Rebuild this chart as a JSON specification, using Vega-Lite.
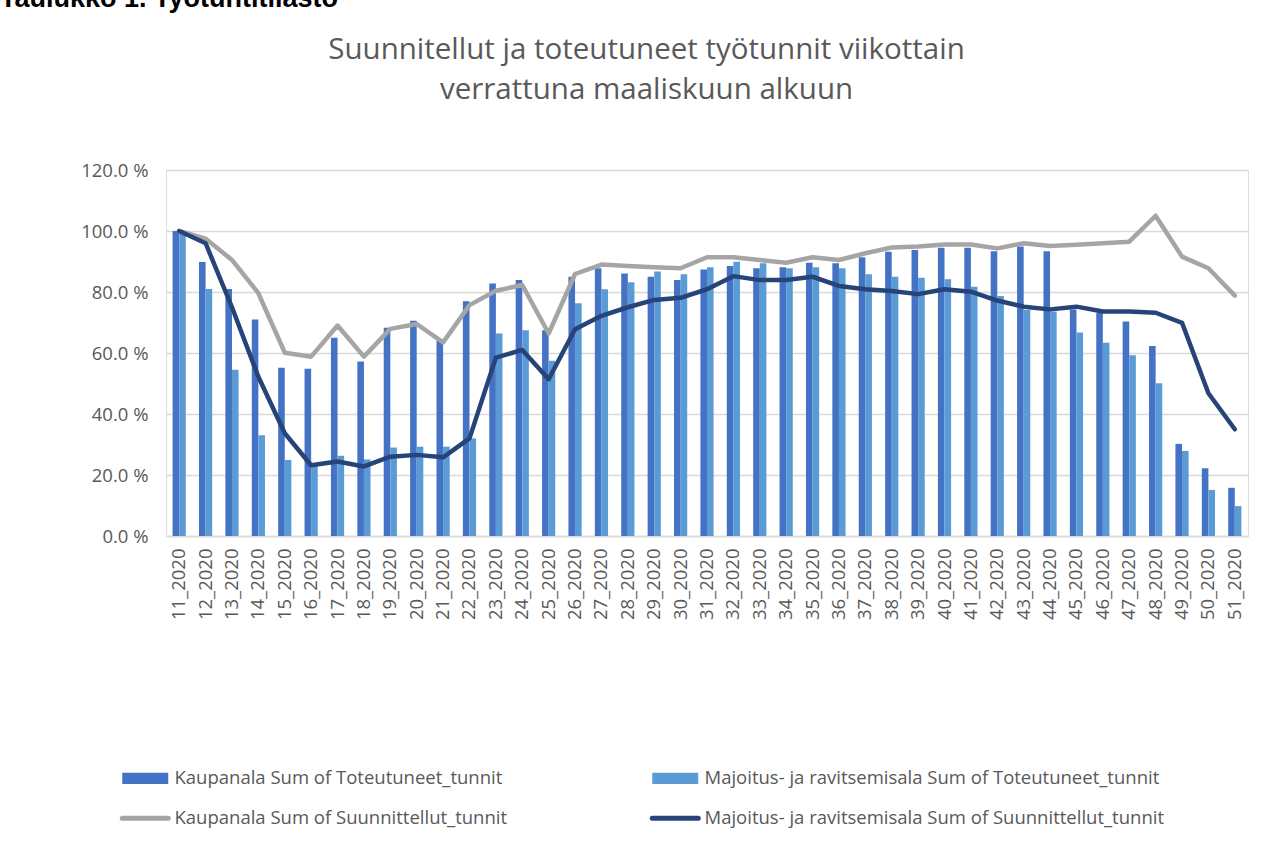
{
  "$schema": "https://vega.github.io/schema/vega-lite/v6.json",
  "width": 1082,
  "height": 366,
  "autosize": {"type": "none"},
  "padding": {"left": 166, "top": 170, "right": 30, "bottom": 307},
  "background": "white",
  "title": {
    "text": "Taulukko 1. Työtuntitilasto",
    "font": "Liberation Sans",
    "fontSize": 27,
    "fontWeight": "bold",
    "color": "#000000",
    "anchor": "start",
    "frame": "group",
    "dx": -166,
    "baseline": "alphabetic",
    "offset": 0
  },
  "datasets": {
    "tunnit": [
      {"viikko": "11_2020", "kt": 100, "mt": 99.5, "ks": 100, "ms": 100},
      {"viikko": "12_2020", "kt": 89.8, "mt": 81, "ks": 97.5, "ms": 96},
      {"viikko": "13_2020", "kt": 81, "mt": 54.5, "ks": 90.5, "ms": 75},
      {"viikko": "14_2020", "kt": 71, "mt": 33, "ks": 79.6, "ms": 52.2},
      {"viikko": "15_2020", "kt": 55.2, "mt": 24.9, "ks": 60.1, "ms": 33.7},
      {"viikko": "16_2020", "kt": 54.8, "mt": 23.3, "ks": 58.8, "ms": 23.2},
      {"viikko": "17_2020", "kt": 65, "mt": 26.3, "ks": 69, "ms": 24.4},
      {"viikko": "18_2020", "kt": 57.2, "mt": 25.1, "ks": 58.8, "ms": 22.8},
      {"viikko": "19_2020", "kt": 68.3, "mt": 29, "ks": 67.9, "ms": 26},
      {"viikko": "20_2020", "kt": 70.6, "mt": 29.3, "ks": 69.5, "ms": 26.6},
      {"viikko": "21_2020", "kt": 64, "mt": 29.3, "ks": 63.5, "ms": 25.8},
      {"viikko": "22_2020", "kt": 77, "mt": 32, "ks": 75.7, "ms": 32},
      {"viikko": "23_2020", "kt": 82.8, "mt": 66.4, "ks": 80.4, "ms": 58.5},
      {"viikko": "24_2020", "kt": 83.9, "mt": 67.5, "ks": 82.3, "ms": 61},
      {"viikko": "25_2020", "kt": 67.5, "mt": 57.5, "ks": 66.4, "ms": 51.4},
      {"viikko": "26_2020", "kt": 85, "mt": 76.3, "ks": 85.9, "ms": 67.8},
      {"viikko": "27_2020", "kt": 87.8, "mt": 80.9, "ks": 89, "ms": 72.2},
      {"viikko": "28_2020", "kt": 86.1, "mt": 83.2, "ks": 88.5, "ms": 75},
      {"viikko": "29_2020", "kt": 85, "mt": 86.7, "ks": 88.1, "ms": 77.4},
      {"viikko": "30_2020", "kt": 83.9, "mt": 85.8, "ks": 87.8, "ms": 78.1},
      {"viikko": "31_2020", "kt": 87.4, "mt": 88.1, "ks": 91.4, "ms": 80.9},
      {"viikko": "32_2020", "kt": 88.5, "mt": 89.9, "ks": 91.4, "ms": 85.2},
      {"viikko": "33_2020", "kt": 87.8, "mt": 89.4, "ks": 90.5, "ms": 83.9},
      {"viikko": "34_2020", "kt": 88.1, "mt": 87.8, "ks": 89.6, "ms": 83.9},
      {"viikko": "35_2020", "kt": 89.6, "mt": 88.1, "ks": 91.4, "ms": 85},
      {"viikko": "36_2020", "kt": 89.4, "mt": 87.8, "ks": 90.5, "ms": 82},
      {"viikko": "37_2020", "kt": 91.4, "mt": 85.8, "ks": 92.7, "ms": 80.9},
      {"viikko": "38_2020", "kt": 93.2, "mt": 85, "ks": 94.6, "ms": 80.3},
      {"viikko": "39_2020", "kt": 93.8, "mt": 84.7, "ks": 94.9, "ms": 79.3},
      {"viikko": "40_2020", "kt": 94.5, "mt": 84.2, "ks": 95.6, "ms": 80.9},
      {"viikko": "41_2020", "kt": 94.5, "mt": 81.7, "ks": 95.6, "ms": 80.1},
      {"viikko": "42_2020", "kt": 93.4, "mt": 78.7, "ks": 94.3, "ms": 77.2},
      {"viikko": "43_2020", "kt": 94.9, "mt": 74.1, "ks": 96, "ms": 75.2},
      {"viikko": "44_2020", "kt": 93.4, "mt": 73.6, "ks": 95.1, "ms": 74.3},
      {"viikko": "45_2020", "kt": 74.3, "mt": 66.7, "ks": 95.5, "ms": 75.2},
      {"viikko": "46_2020", "kt": 73.2, "mt": 63.4, "ks": 96, "ms": 73.6},
      {"viikko": "47_2020", "kt": 70.3, "mt": 59.3, "ks": 96.5, "ms": 73.6},
      {"viikko": "48_2020", "kt": 62.3, "mt": 50.1, "ks": 105, "ms": 73.2},
      {"viikko": "49_2020", "kt": 30.2, "mt": 27.9, "ks": 91.6, "ms": 69.9},
      {"viikko": "50_2020", "kt": 22.2, "mt": 15.1, "ks": 87.8, "ms": 46.8},
      {"viikko": "51_2020", "kt": 15.8, "mt": 9.8, "ks": 78.8, "ms": 35}
    ]
  },
  "data": {"name": "tunnit"},
  "encoding": {
    "x": {
      "field": "viikko",
      "type": "ordinal",
      "sort": null,
      "scale": {"paddingInner": 0.5, "paddingOuter": 0.25},
      "axis": {
        "title": null,
        "labelAngle": -90,
        "labelAlign": "right",
        "labelBaseline": "middle",
        "labelFont": "Open Sans",
        "labelFontSize": 18.5,
        "labelColor": "#595959",
        "labelPadding": 12,
        "ticks": false,
        "domainColor": "#D9D9D9",
        "domainWidth": 1.5,
        "grid": false
      }
    },
    "y": {
      "field": "arvo",
      "type": "quantitative",
      "scale": {"domain": [0, 120], "nice": false},
      "axis": {
        "title": ["Suunnitellut ja toteutuneet työtunnit viikottain", "verrattuna maaliskuun alkuun"],
        "titleAngle": 0,
        "titleAlign": "center",
        "titleBaseline": "alphabetic",
        "titleX": 480,
        "titleY": -112,
        "titleLineHeight": 40,
        "titleFont": "Open Sans",
        "titleFontSize": 29.5,
        "titleFontWeight": "normal",
        "titleColor": "#595959",
        "values": [0, 20, 40, 60, 80, 100, 120],
        "labelExpr": "format(datum.value, '.1f') + ' %'",
        "labelFont": "Open Sans",
        "labelFontSize": 18.5,
        "labelColor": "#595959",
        "labelPadding": 18,
        "ticks": false,
        "domain": false,
        "grid": true,
        "gridColor": "#D9D9D9",
        "gridWidth": 1.3
      }
    },
    "color": {
      "field": "sarja",
      "type": "nominal",
      "scale": {
        "domain": ["kt", "ks", "mt", "ms"],
        "range": ["#4472C4", "#A5A5A5", "#5B9BD5", "#264478"]
      },
      "legend": {
        "title": null,
        "orient": "none",
        "legendX": -30,
        "legendY": 599,
        "columns": 2,
        "columnPadding": 134,
        "rowPadding": 20,
        "padding": 0,
        "symbolSize": 2116,
        "labelOffset": 20,
        "labelFont": "Open Sans",
        "labelFontSize": 18.5,
        "labelColor": "#595959",
        "labelLimit": 700,
        "labelExpr": "datum.value == 'kt' ? 'Kaupanala Sum of Toteutuneet_tunnit' : datum.value == 'mt' ? 'Majoitus- ja ravitsemisala Sum of Toteutuneet_tunnit' : datum.value == 'ks' ? 'Kaupanala Sum of Suunnittellut_tunnit' : 'Majoitus- ja ravitsemisala Sum of Suunnittellut_tunnit'",
        "encode": {
          "symbols": {
            "update": {
              "shape": {"signal": "datum.value == 'kt' || datum.value == 'mt' ? 'M-1,-0.24H1V0.24H-1Z' : 'stroke'"},
              "fill": {"signal": "datum.value == 'kt' || datum.value == 'mt' ? scale('color', datum.value) : 'transparent'"},
              "stroke": {"signal": "datum.value == 'kt' || datum.value == 'mt' ? 'transparent' : scale('color', datum.value)"},
              "strokeWidth": {"signal": "datum.value == 'kt' || datum.value == 'mt' ? 0 : 5"},
              "strokeCap": {"value": "round"},
              "opacity": {"value": 1}
            }
          }
        }
      }
    }
  },
  "layer": [
    {
      "transform": [{"fold": ["kt", "mt"], "as": ["sarja", "arvo"]}],
      "mark": {"type": "bar"},
      "encoding": {
        "xOffset": {"field": "sarja", "type": "nominal", "sort": ["kt", "mt"]}
      }
    },
    {
      "transform": [{"fold": ["ks"], "as": ["sarja", "arvo"]}],
      "mark": {"type": "line", "strokeWidth": 4.5, "strokeJoin": "round", "strokeCap": "round"},
      "encoding": {}
    },
    {
      "transform": [{"fold": ["ms"], "as": ["sarja", "arvo"]}],
      "mark": {"type": "line", "strokeWidth": 4.5, "strokeJoin": "round", "strokeCap": "round"},
      "encoding": {}
    }
  ]
}
